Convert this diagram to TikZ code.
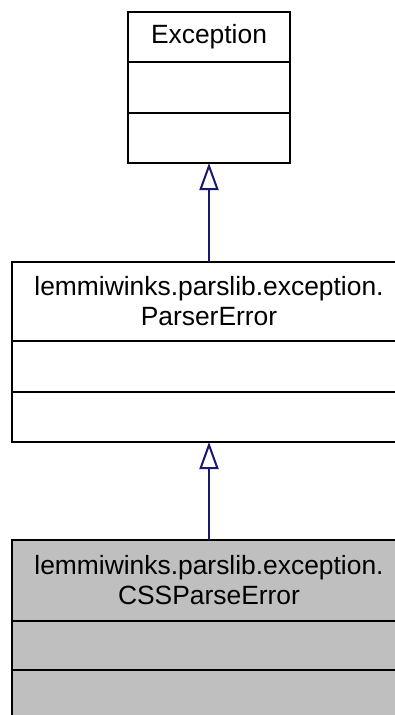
\documentclass[tikz,border=0pt]{standalone}
\usepackage{fontspec}
\setmainfont{Liberation Sans}
\usepackage{tikz}
\usetikzlibrary{arrows.meta, positioning}
\definecolor{edgeblue}{RGB}{25,25,112}
\definecolor{classgray}{RGB}{191,191,191}

\begin{document}
\begin{tikzpicture}[x=1pt, y=-1pt,
    cls/.style={rectangle, draw, line width=2pt, outer sep=0pt, inner sep=0pt,
                text centered, align=center, fill=white,
                font=\fontsize{26.4}{30}\selectfont},
    inherit/.style={line width=2pt, draw=edgeblue,
                    -{Triangle[open, length=27pt, width=19pt]}}]

\clip (0,0) rectangle (395,715);

% Base class -- three compartments stacked
\node (exc)     [cls, minimum width=162pt, minimum height=50pt] at (209, 37) {Exception};
\node (excattr) [cls, minimum width=162pt, minimum height=51pt, below=0pt of exc]     {};
\node (excops)  [cls, minimum width=162pt, minimum height=50pt, below=0pt of excattr] {};

% Middle class -- wider than the page, right edge clipped
\node (perr)     [cls, minimum width=394pt, minimum height=79pt] at (209, 301.5)
                 {lemmiwinks.parslib.exception.\\ParserError};
\node (perrattr) [cls, minimum width=394pt, minimum height=51pt, below=0pt of perr]     {};
\node (perrops)  [cls, minimum width=394pt, minimum height=50pt, below=0pt of perrattr] {};

% Leaf class (highlighted) -- runs off the bottom
\node (css)     [cls, fill=classgray, minimum width=394pt, minimum height=81pt] at (209, 580.5)
                {lemmiwinks.parslib.exception.\\CSSParseError};
\node (cssattr) [cls, fill=classgray, minimum width=394pt, minimum height=49pt, below=0pt of css]     {};
\node (cssops)  [cls, fill=classgray, minimum width=394pt, minimum height=50pt, below=0pt of cssattr] {};

% Inheritance arrows
\draw [inherit] (perr.north) -- (excops.south);
\draw [inherit] (css.north)  -- (perrops.south);

\end{tikzpicture}
\end{document}
